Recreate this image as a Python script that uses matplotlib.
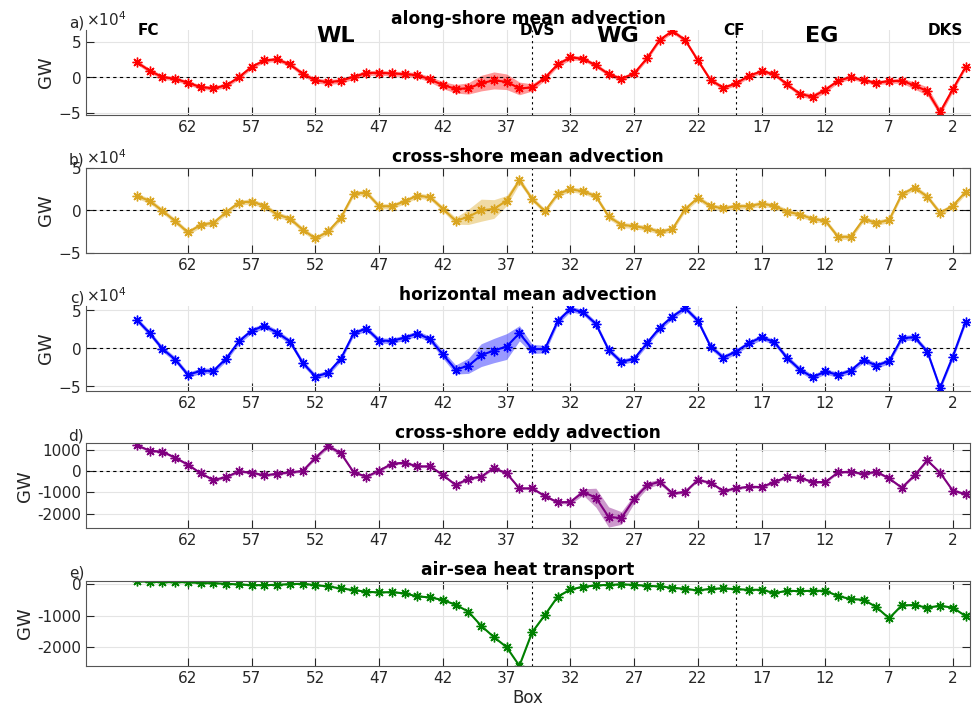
import numpy as np
import matplotlib
matplotlib.use('Agg')
import matplotlib.pyplot as plt
import matplotlib.transforms as mtransforms
from matplotlib.ticker import ScalarFormatter

plt.rcParams['font.family'] = ['DejaVu Sans']
plt.rcParams['axes.unicode_minus'] = False

# boxes 66 -> 1
box = list(range(66, 0, -1))
xticks = [62, 57, 52, 47, 42, 37, 32, 27, 22, 17, 12, 7, 2]

# panel values (a-c in 1e4 GW, d-e in GW)
along_mean = [2.08, 0.9, 0.0, -0.24, -0.8, -1.42, -1.56, -1.18, 0.0, 1.46,
              2.36, 2.5, 1.79, 0.47, -0.47, -0.7, -0.52, 0.05, 0.57, 0.61,
              0.52, 0.42, 0.28, -0.33, -1.13, -1.65, -1.6, -0.85, -0.47, -0.66,
              -1.6, -1.46, -0.1, 1.79, 2.78, 2.6, 1.65, 0.42, -0.24, 0.52,
              2.64, 5.24, 6.5, 5.24, 2.36, -0.42, -1.5, -0.9, 0.19, 0.8,
              0.42, -1.04, -2.36, -2.78, -1.8, -0.52, 0.0, -0.47, -0.8, -0.57,
              -0.52, -1.18, -1.98, -4.95, -1.7, 1.42]
cross_mean = [1.68, 1.09, -0.08, -1.29, -2.62, -1.72, -1.48, -0.23, 0.9, 1.02,
              0.51, -0.51, -0.98, -2.3, -3.32, -2.5, -0.86, 1.95, 2.07, 0.47,
              0.47, 1.05, 1.72, 1.52, 0.16, -1.25, -0.78, 0.0, 0.14, 1.13,
              3.52, 1.33, -0.12, 1.91, 2.46, 2.23, 1.64, -0.74, -1.72, -1.88,
              -2.11, -2.54, -2.23, 0.12, 1.45, 0.47, 0.23, 0.47, 0.47, 0.78,
              0.51, -0.16, -0.51, -1.02, -1.25, -3.13, -3.13, -1.05, -1.48, -1.17,
              1.88, 2.66, 1.6, -0.31, 0.51, 2.15]
horiz_mean = [3.73, 1.97, -0.09, -1.49, -3.51, -2.98, -2.98, -1.36, 0.92, 2.32,
              2.94, 2.06, 0.88, -1.93, -3.73, -3.25, -1.36, 1.97, 2.59, 1.01,
              0.96, 1.4, 1.93, 1.18, -0.83, -2.81, -2.32, -0.92, -0.31, 0.22,
              1.97, -0.09, -0.13, 3.55, 5.18, 4.74, 3.2, -0.22, -1.8, -1.4,
              0.66, 2.68, 4.17, 5.3, 3.64, 0.22, -1.23, -0.44, 0.66, 1.45,
              0.79, -1.27, -2.81, -3.82, -3.07, -3.51, -2.94, -1.54, -2.28, -1.71,
              1.32, 1.45, -0.44, -5.22, -1.1, 3.51]
cross_eddy = [1232, 980, 932, 648, 316, -95, -411, -269, 0, -63,
              -190, -111, -47, 16, 648, 1200, 853, -47, -253, 32,
              363, 411, 237, 237, -174, -648, -348, -253, 160, -95,
              -806, -806, -1169, -1469, -1453, -979, -1248, -2164, -2212, -1311,
              -664, -490, -1043, -979, -411, -537, -932, -806, -727, -742,
              -506, -269, -300, -506, -506, -47, -16, -126, -16, -332,
              -774, -190, 521, -63, -916, -1074]
air_sea = [106, 85, 74, 74, 74, 42, 42, 21, 0, -21,
           -21, -11, 11, 21, -21, -63, -127, -180, -233, -254,
           -243, -286, -381, -413, -497, -646, -868, -1318, -1678, -2000,
           -2593, -1524, -974, -392, -159, -74, -32, -11, 0, -11,
           -42, -63, -106, -138, -190, -138, -127, -148, -169, -169,
           -275, -201, -212, -201, -201, -370, -466, -487, -720, -1079,
           -667, -656, -741, -677, -741, -1005]

# uncertainty half-widths
err_a = [0.3] * 10 + [0.3, 0.3, 0.3, 0.35, 0.35, 0.35, 0.35, 0.35, 0.35, 0.35] + \
        [0.35, 0.35, 0.35, 0.4, 0.5, 0.6, 0.8, 1.1, 1.2, 1.1] + \
        [0.9, 0.5, 0.35, 0.35, 0.35, 0.3, 0.3, 0.3, 0.3, 0.3] + [0.3] * 10 + \
        [0.3, 0.3, 0.3, 0.4, 0.4, 0.3, 0.3, 0.3, 0.3, 0.3] + [0.35, 0.5, 0.6, 0.5, 0.4, 0.3]
err_b = [0.3] * 20 + [0.3, 0.3, 0.3, 0.3, 0.3, 0.4, 0.9, 1.3, 1.1, 0.6] + \
        [0.4, 0.3, 0.3, 0.3, 0.3, 0.3, 0.3, 0.3, 0.3, 0.3] + [0.3] * 26
err_c = [0.35] * 20 + [0.35, 0.35, 0.35, 0.4, 0.5, 0.6, 1.0, 1.5, 1.6, 1.7] + \
        [1.0, 0.6, 0.5, 0.4, 0.35, 0.35, 0.35, 0.35, 0.35, 0.35] + [0.35] * 26
err_d = [60] * 14 + [90, 110, 90, 60, 60, 60] + [60] * 10 + \
        [60, 60, 60, 60, 100, 150, 450, 480, 300, 200] + [150, 120, 80, 60, 60, 60, 60, 60, 60, 60] + [60] * 16
err_e = [15] * 66

titles = ['along-shore mean advection', 'cross-shore mean advection',
          'horizontal mean advection', 'cross-shore eddy advection',
          'air-sea heat transport']
letters = ['a)', 'b)', 'c)', 'd)', 'e)']
colors = ['#ff0000', '#daa520', '#0000ff', '#800080', '#008000']
scales = [1e4, 1e4, 1e4, 1, 1]
series = [along_mean, cross_mean, horiz_mean, cross_eddy, air_sea]
errors = [err_a, err_b, err_c, err_d, err_e]
ylims = [(-5.35e4, 6.65e4), (-5e4, 5e4), (-5.6e4, 5.6e4), (-2700, 1330), (-2600, 110)]
yticks = [[-5e4, 0, 5e4], [-5e4, 0, 5e4], [-5e4, 0, 5e4],
          [-2000, -1000, 0, 1000], [-2000, -1000, 0]]
boxed = [False, True, False, True, True]

# regions / sections
dividers = [35, 19]
small_names = ['FC', 'DVS', 'CF', 'DKS']
small_x = [65.1, 34.6, 19.2, 2.6]
big_names = ['WL', 'WG', 'EG']
big_x = [50.4, 28.25, 12.3]

fig = plt.figure(figsize=(9.72, 7.13), dpi=100)
left, width, height = 86 / 972, 884 / 972, 85 / 713
bottoms = [115, 252.7, 390.7, 528.3, 666]

for i in range(5):
    ax = fig.add_axes([left, 1 - bottoms[i] / 713, width, height])
    y = np.array(series[i]) * scales[i]
    e = np.array(errors[i]) * scales[i]
    ax.fill_between(box, y - e, y + e, color=colors[i], alpha=0.4, lw=0)
    ax.plot(box, y, color=colors[i], lw=1.5, marker=(8, 2, 0), ms=7, mew=1.0)
    if i < 4:
        ax.axhline(0, color='k', ls=(0, (3, 3)), lw=0.8, zorder=1)
    for d in dividers:
        ax.axvline(d, color='k', ls=(0, (2, 3)), lw=0.8, zorder=1)

    ax.set_xlim(70, 0.65)
    ax.set_ylim(*ylims[i])
    ax.set_xticks(xticks)
    ax.set_yticks(yticks[i])
    ax.grid(True, color='#e4e4e4', lw=0.8)
    ax.set_axisbelow(True)
    ax.tick_params(direction='in', length=6, labelsize=11, colors='#262626',
                   top=boxed[i], right=boxed[i])
    for s in ax.spines.values():
        s.set_color('#555555')
    ax.spines['top'].set_visible(boxed[i])
    ax.spines['right'].set_visible(boxed[i])

    if scales[i] == 1e4:
        fmt = ScalarFormatter(useMathText=True)
        fmt.set_powerlimits((0, 0))
        ax.yaxis.set_major_formatter(fmt)
        ax.yaxis.get_offset_text().set_fontsize(11)
        ax.yaxis.get_offset_text().set_color('#262626')

    ax.set_ylabel('GW', fontsize=13, color='#262626', labelpad=2)
    ax.set_title(titles[i], fontsize=12.3, fontweight='bold', pad=4)
    ax.text(-0.002, 1.0, letters[i], transform=ax.transAxes, ha='right',
            va='bottom', fontsize=11, color='#262626')

    if i == 0:
        trans = mtransforms.blended_transform_factory(ax.transData, ax.transAxes)
        for name, xpos in zip(small_names, small_x):
            ax.text(xpos, 0.99, name, transform=trans, ha='center', va='center',
                    fontsize=11, fontweight='bold')
        for name, xpos in zip(big_names, big_x):
            ax.text(xpos, 0.93, name, transform=trans, ha='center', va='center',
                    fontsize=16, fontweight='bold')
    if i == 4:
        ax.set_xlabel('Box', fontsize=12, color='#262626', labelpad=2)

fig.savefig('out.png', dpi=100)
